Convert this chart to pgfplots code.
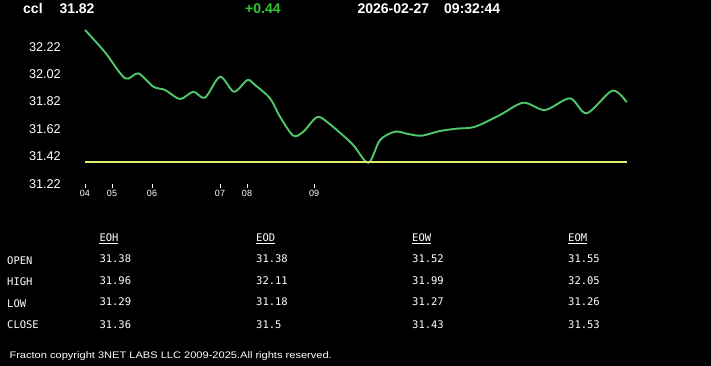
\documentclass[border=0pt]{standalone}
\usepackage{pgfplots}
\pgfplotsset{compat=1.18}
\usepackage{fontspec}
\setmainfont{Liberation Sans}
\newfontfamily\monofont{DejaVu Sans Mono}
\definecolor{linegreen}{RGB}{80,200,105}
\definecolor{openyellow}{RGB}{220,238,110}
\definecolor{hdrgreen}{RGB}{50,200,50}
\begin{document}
\begin{tikzpicture}
\fill[black] (0,0) rectangle (711pt,-366pt);
\begin{axis}[
  at={(85pt,-184pt)}, anchor=south west,
  scale only axis, width=542pt, height=162pt,
  xmin=0, xmax=542, ymin=31.22, ymax=32.40,
  clip=false,
  axis line style={draw=none},
  xtick={0,27,67,135,162,229},
  xticklabels={04,05,06,07,08,09},
  ytick={31.22,31.42,31.62,31.82,32.02,32.22},
  yticklabels={31.22,31.42,31.62,31.82,32.02,32.22},
  tick align=outside, major tick length=4pt,
  xtick pos=bottom, ytick pos=left,
  xtick style={white, line width=0.8pt},
  ytick style={draw=none},
  xticklabel style={text=white, font=\fontsize{9}{9}\selectfont, inner sep=0pt, anchor=north, yshift=-2.5pt},
  yticklabel style={text=white, font=\fontsize{12.7}{12.7}\selectfont, inner sep=0pt, anchor=east, xshift=-20pt},
]
\addplot[linegreen, line width=1.9pt, smooth, tension=0.5] coordinates {
(0,32.342) (20,32.18) (40,31.990) (53.3,32.026) (68.3,31.929) (80,31.905)
(95,31.839) (108.3,31.892) (120,31.849) (135,32.001) (149,31.892)
(162.3,31.977) (170,31.941) (185,31.844) (195,31.710) (208.3,31.572)
(218.3,31.601) (231.7,31.706) (241.7,31.674) (266.7,31.516) (283.3,31.375)
(295,31.540) (310,31.601) (323.3,31.584) (336.7,31.572) (355,31.606)
(371.7,31.623) (390,31.637) (415,31.723) (438.3,31.812) (460,31.759)
(485,31.844) (501.7,31.735) (527.3,31.900) (541.7,31.815)
};
\addplot[openyellow, line width=2pt] coordinates {(0,31.378) (541.7,31.378)};
\end{axis}
% header
\begin{scope}[every node/.style={anchor=base west, inner sep=0pt, font=\fontsize{14}{14}\selectfont\bfseries}]
\node[text=white] at (23pt,-13.3pt) {ccl};
\node[text=white] at (59.3pt,-13.3pt) {31.82};
\node[text=hdrgreen] at (245pt,-13.3pt) {+0.44};
\node[text=white] at (357.3pt,-13.3pt) {2026-02-27};
\node[text=white] at (444pt,-13.3pt) {09:32:44};
\end{scope}
% table
\begin{scope}[every node/.style={anchor=base west, inner sep=0pt, text=white, font=\monofont\fontsize{10.5}{10.5}\selectfont}]
\node at (99.3pt,-241.3pt) {EOH};
\node at (256pt,-241.3pt) {EOD};
\node at (412pt,-241.3pt) {EOW};
\node at (568pt,-241.3pt) {EOM};
\foreach \x in {99.3,256,412,568} {\draw[white, line width=0.8pt] (\x pt,-243pt) -- ++(19pt,0);}
\node at (7pt,-264pt) {OPEN};
\node at (7pt,-285.5pt) {HIGH};
\node at (7pt,-307pt) {LOW};
\node at (7pt,-328.7pt) {CLOSE};
\node at (99.3pt,-262.3pt) {31.38};
\node at (256pt,-262.3pt) {31.38};
\node at (412pt,-262.3pt) {31.52};
\node at (568pt,-262.3pt) {31.55};
\node at (99.3pt,-284pt) {31.96};
\node at (256pt,-284pt) {32.11};
\node at (412pt,-284pt) {31.99};
\node at (568pt,-284pt) {32.05};
\node at (99.3pt,-305.7pt) {31.29};
\node at (256pt,-305.7pt) {31.18};
\node at (412pt,-305.7pt) {31.27};
\node at (568pt,-305.7pt) {31.26};
\node at (99.3pt,-328pt) {31.36};
\node at (256pt,-328pt) {31.5};
\node at (412pt,-328pt) {31.43};
\node at (568pt,-328pt) {31.53};
\end{scope}
\node[anchor=base west, inner sep=0pt, text=white, font=\fontsize{9.5}{9.5}\selectfont] at (9.3pt,-358.7pt) {\scalebox{1.165}[1]{Fracton copyright 3NET LABS LLC 2009-2025.All rights reserved.}};
\pgfresetboundingbox
\useasboundingbox (0,0) rectangle (711pt,-366pt);
\end{tikzpicture}
\end{document}
